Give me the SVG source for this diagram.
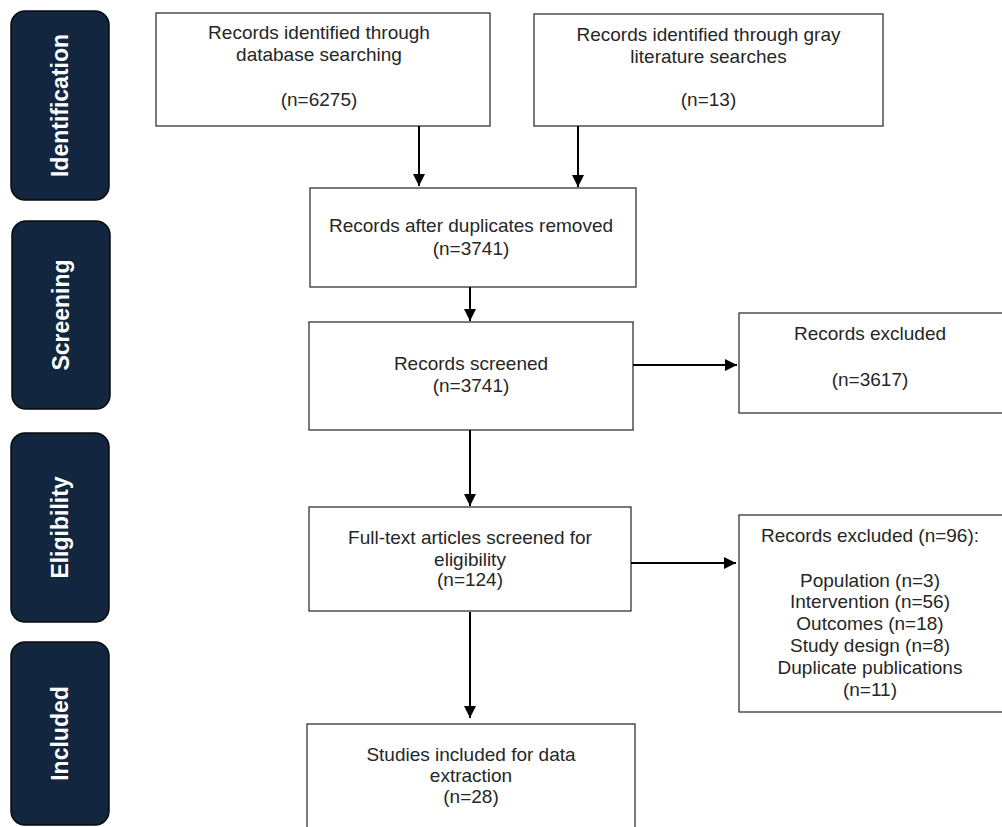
<svg xmlns="http://www.w3.org/2000/svg" width="1002" height="827" viewBox="0 0 1002 827">
<defs>
<style>
.box{fill:#fff;stroke:#333;stroke-width:1.3}
.bar{fill:#12263f;stroke:#0a0a0a;stroke-width:1.5}
.t{font-family:"Liberation Sans",Arial,sans-serif;font-size:19px;fill:#262626;text-anchor:middle}
.s{font-family:"Liberation Sans",Arial,sans-serif;font-size:23px;font-weight:bold;fill:#fff;text-anchor:middle}
.c{stroke:#000;stroke-width:2;fill:none;marker-end:url(#ah)}
</style>
<marker id="ah" viewBox="0 0 10 10" refX="10" refY="5" markerWidth="6" markerHeight="6" markerUnits="strokeWidth" orient="auto">
<path d="M0,0 L10,5 L0,10 z" fill="#000"/>
</marker>
</defs>
<rect width="1002" height="827" fill="#fff"/>
<g id="stage-identification">
<rect class="bar" x="11" y="11" width="98" height="189" rx="14"/>
<text class="s" transform="translate(68,105.5) rotate(-90)">Identification</text>
</g>
<g id="stage-screening">
<rect class="bar" x="12" y="221" width="98" height="188" rx="14"/>
<text class="s" transform="translate(69,315) rotate(-90)">Screening</text>
</g>
<g id="stage-eligibility">
<rect class="bar" x="11" y="433" width="98" height="189" rx="14"/>
<text class="s" transform="translate(68,527.5) rotate(-90)">Eligibility</text>
</g>
<g id="stage-included">
<rect class="bar" x="11" y="642" width="98" height="183" rx="14"/>
<text class="s" transform="translate(68,733.5) rotate(-90)">Included</text>
</g>
<g id="db-search">
<rect class="box" x="156" y="13" width="334" height="113"/>
<text class="t" x="319" y="39">Records identified through</text>
<text class="t" x="319" y="61">database searching</text>
<text class="t" x="319" y="106">(n=6275)</text>
</g>
<g id="gray-search">
<rect class="box" x="534" y="14" width="349" height="112"/>
<text class="t" x="708.5" y="41">Records identified through gray</text>
<text class="t" x="708.5" y="63">literature searches</text>
<text class="t" x="708.5" y="106">(n=13)</text>
</g>
<g id="dedup">
<rect class="box" x="310" y="188" width="326" height="99"/>
<text class="t" x="471" y="232">Records after duplicates removed</text>
<text class="t" x="471" y="255">(n=3741)</text>
</g>
<g id="screened">
<rect class="box" x="309" y="322" width="324" height="108"/>
<text class="t" x="471" y="370">Records screened</text>
<text class="t" x="471" y="392">(n=3741)</text>
</g>
<g id="excluded-1">
<rect class="box" x="739" y="313" width="270" height="100"/>
<text class="t" x="870" y="340">Records excluded</text>
<text class="t" x="870" y="386">(n=3617)</text>
</g>
<g id="fulltext">
<rect class="box" x="309" y="507" width="322" height="104"/>
<text class="t" x="470" y="544">Full-text articles screened for</text>
<text class="t" x="470" y="566">eligibility</text>
<text class="t" x="470" y="586">(n=124)</text>
</g>
<g id="excluded-2">
<rect class="box" x="739" y="515" width="270" height="197"/>
<text class="t" x="870" y="542">Records excluded (n=96):</text>
<text class="t" x="870" y="587">Population (n=3)</text>
<text class="t" x="870" y="608">Intervention (n=56)</text>
<text class="t" x="870" y="630">Outcomes (n=18)</text>
<text class="t" x="870" y="652">Study design (n=8)</text>
<text class="t" x="870" y="674">Duplicate publications</text>
<text class="t" x="870" y="696">(n=11)</text>
</g>
<g id="included">
<rect class="box" x="307" y="724" width="328" height="115"/>
<text class="t" x="471" y="761">Studies included for data</text>
<text class="t" x="471" y="782">extraction</text>
<text class="t" x="471" y="803">(n=28)</text>
</g>
<g id="connectors">
<line class="c" x1="419" y1="126" x2="419" y2="186"/>
<line class="c" x1="578" y1="126" x2="578" y2="187"/>
<line class="c" x1="470" y1="287" x2="470" y2="321"/>
<line class="c" x1="633" y1="365" x2="737" y2="365"/>
<line class="c" x1="470" y1="430" x2="470" y2="506"/>
<line class="c" x1="631" y1="563" x2="736" y2="563"/>
<line class="c" x1="470" y1="612" x2="470" y2="718"/>
</g>
</svg>
